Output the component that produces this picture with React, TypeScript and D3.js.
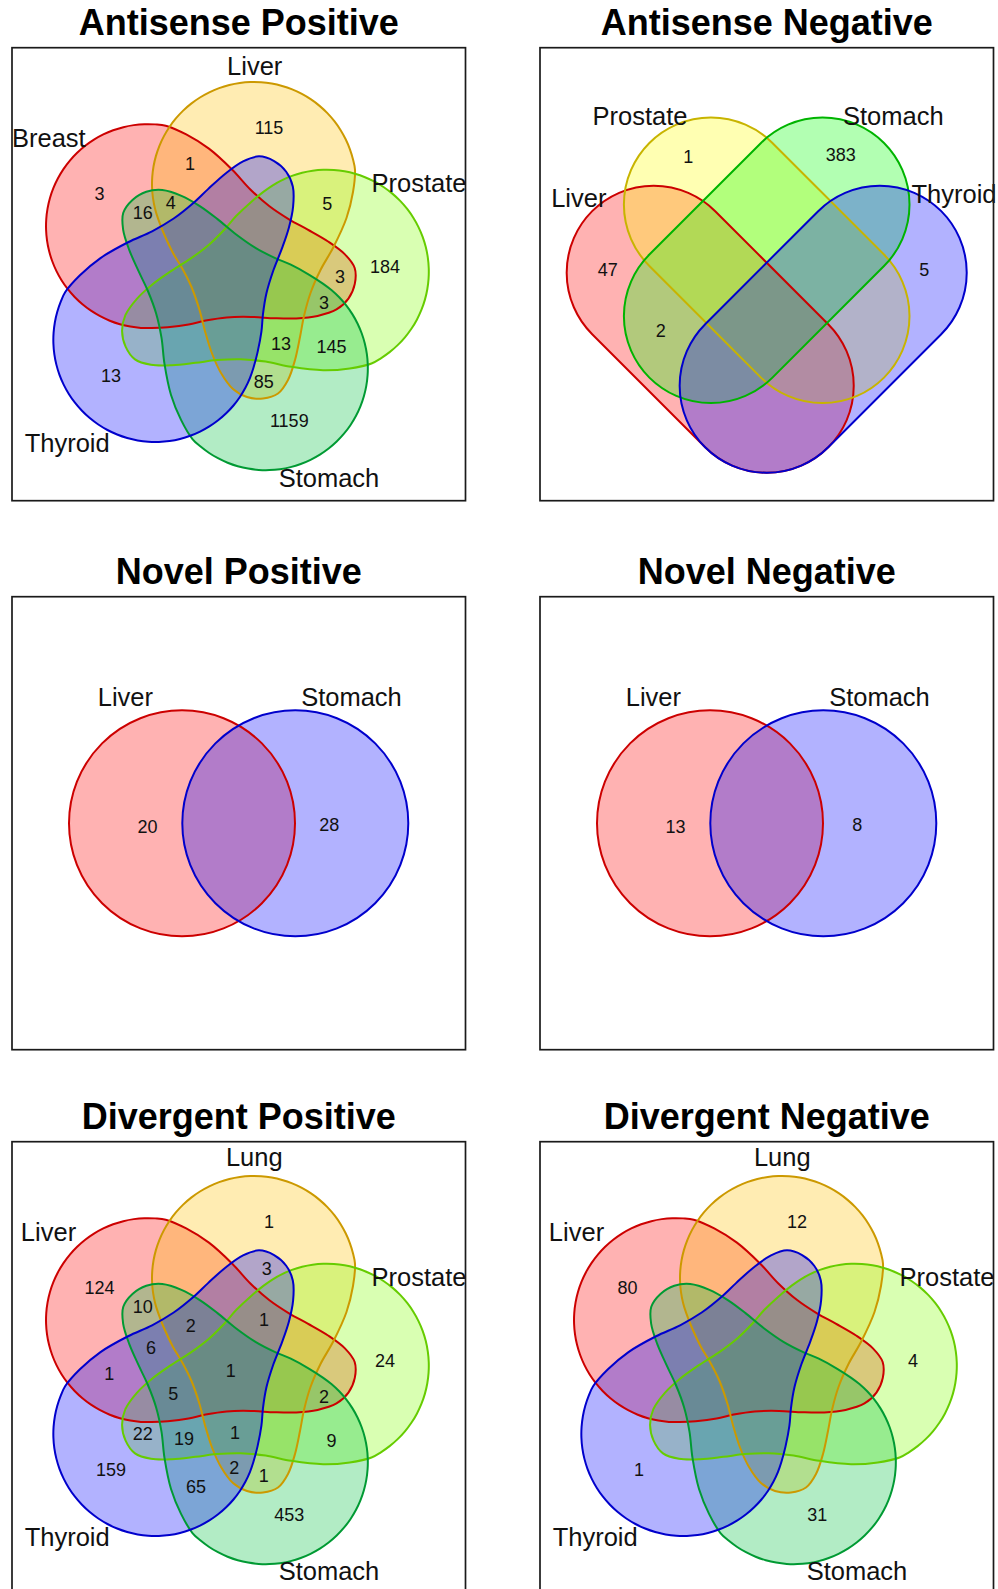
import React from "react";
import * as d3 from "d3";

// ---------- data ----------
const apTitle = "Antisense Positive";
const apSets = ["Breast", "Liver", "Prostate", "Stomach", "Thyroid"];
const apRegions = ["10000", "01000", "00100", "00010", "00001", "11000", "10010", "11010", "01100", "10100", "10110", "01110", "00110", "01010"];
const apCounts = [3, 115, 184, 1159, 13, 1, 16, 4, 5, 3, 3, 13, 145, 85];

const anTitle = "Antisense Negative";
const anSets = ["Liver", "Prostate", "Stomach", "Thyroid"];
const anRegions = ["1000", "0100", "0010", "0001", "1010"];
const anCounts = [47, 1, 383, 5, 2];

const npTitle = "Novel Positive";
const npSets = ["Liver", "Stomach"];
const npRegions = ["10", "01"];
const npCounts = [20, 28];

const nnTitle = "Novel Negative";
const nnSets = ["Liver", "Stomach"];
const nnRegions = ["10", "01"];
const nnCounts = [13, 8];

const dpTitle = "Divergent Positive";
const dpSets = ["Liver", "Lung", "Prostate", "Stomach", "Thyroid"];
const dpRegions = ["10000", "01000", "00100", "00010", "00001", "01001", "10010", "11011", "11101", "10011", "10001", "11111", "10111", "10110", "00101", "00111", "01111", "00110", "01011", "01010", "00011"];
const dpCounts = [124, 1, 24, 453, 159, 3, 10, 2, 1, 6, 1, 1, 5, 2, 22, 19, 1, 9, 2, 1, 65];

const dnTitle = "Divergent Negative";
const dnSets = ["Liver", "Lung", "Prostate", "Stomach", "Thyroid"];
const dnRegions = ["10000", "01000", "00100", "00010", "00001"];
const dnCounts = [80, 12, 4, 31, 1];

// ---------- layout ----------
const W = 998, H = 1589;
const BOX_W = 453.5, BOX_H = 453;
const COL_X = [12, 540];
const ROW_Y = [47.7, 596.7, 1141.7];
const FONT = "'Liberation Sans', Arial, Helvetica, sans-serif";
const ALPHA = 0.3;

// petal of the 5-set diagram (top set), relative to the star centre:
// a round lobe plus a tail that bends through the middle
const LOBE_C: [number, number] = [24, -94];
const LOBE_R = 102;
const tail: [number, number][] = [
  [-66, -44], [-57, -25], [-48, -10], [-38.5, 9], [-30.5, 32], [-24.5, 55], [-18, 75.5],
  [-9, 95], [3, 111], [17, 119], [33, 120.5], [48, 115.5], [58, 102], [65, 82], [70, 59],
  [74, 38], [80.5, 15], [90.5, -8], [103.5, -31], [116.5, -60], [123, -86],
];
const petal: [number, number][] = (() => {
  const pts: [number, number][] = [];
  for (let a = -8; a >= -200; a -= 6) {
    const t = (a * Math.PI) / 180;
    pts.push([LOBE_C[0] + LOBE_R * Math.cos(t), LOBE_C[1] + LOBE_R * Math.sin(t)]);
  }
  return pts.concat(tail);
})();

const fiveFill = ["#FF0000", "#FFBF00", "#80FF00", "#00C040", "#0000FF"];
const fiveStroke = ["#CC0000", "#CC9900", "#66CC00", "#009A33", "#0000CC"];
const fiveSpots: Record<string, [number, number]> = {
  "10000": [-130.5, -84.5], "01000": [39, -150.3], "00100": [155, -11.3], "00010": [59.3, 142.5],
  "00001": [-119, 98], "11000": [-40, -114.7], "10010": [-87.3, -65.5], "11010": [-59.3, -75.7],
  "01100": [97.3, -74], "10100": [110, -1.3], "10110": [94, 24.7], "01110": [51, 65.3],
  "00110": [101.5, 68.5], "01010": [33.7, 103.8], "01001": [36.7, -103.7], "11011": [-39.3, -46.3],
  "11101": [34, -52], "10011": [-79, -24.3], "10001": [-120.7, 2], "11111": [0.7, -1.3],
  "10111": [-56.7, 21.3], "00101": [-87.3, 62], "00111": [-46, 66.3], "01111": [5, 60.3],
  "01011": [4.3, 95.7], "00011": [-34, 114.7],
};
const fiveLabelsA: [number, number][] = [[36.8, 99.6], [242.7, 27.3], [407, 144.6], [317, 439.6], [55.2, 404.6]];
const fiveLabelsB: [number, number][] = [[36.5, 99], [242.3, 24.3], [407, 144], [317, 438.3], [55.2, 404]];

const fourFill = ["#FF0000", "#FFFF00", "#00FF00", "#0000FF"];
const fourStroke = ["#CC0000", "#C8B400", "#00B400", "#0000CC"];
const fourCaps: [number, number, number, number][] = [
  [113.7, 225, 226.7, 338],
  [170.9, 156.8, 282.5, 268.4],
  [282.5, 156.8, 170.9, 268.4],
  [339.7, 225, 226.7, 338],
];
const fourR = 87;
const fourSpots: Record<string, [number, number]> = {
  "1000": [67.7, 221.6], "0100": [148.3, 109], "0010": [300.7, 107.3], "0001": [384.3, 221.6], "1010": [120.7, 283.3],
};
const fourLabels: [number, number][] = [[38.8, 159], [100, 77.3], [353.3, 77.3], [414, 155.3]];

const twoFill = ["#FF0000", "#0000FF"];
const twoStroke = ["#CC0000", "#0000CC"];
const twoCircles: [number, number][] = [[170, 226.6], [283.3, 226.6]];
const twoR = 113;
const twoSpots: Record<string, [number, number]> = { "10": [135.5, 230], "01": [317.2, 228.3] };
const twoLabels: [number, number][] = [[113.4, 109], [339.5, 109]];

const rot = (p: [number, number], deg: number): [number, number] => {
  const a = (deg * Math.PI) / 180;
  return [p[0] * Math.cos(a) - p[1] * Math.sin(a), p[0] * Math.sin(a) + p[1] * Math.cos(a)];
};

function stadium(x1: number, y1: number, x2: number, y2: number, r: number) {
  const dx = x2 - x1, dy = y2 - y1;
  const len = Math.hypot(dx, dy);
  const nx = -dy / len, ny = dx / len;
  const a = Math.atan2(ny, nx);
  const p = d3.path();
  p.moveTo(x1 + nx * r, y1 + ny * r);
  p.lineTo(x2 + nx * r, y2 + ny * r);
  p.arc(x2, y2, r, a, a - Math.PI, true);
  p.lineTo(x1 - nx * r, y1 - ny * r);
  p.arc(x1, y1, r, a + Math.PI, a, true);
  p.closePath();
  return p.toString();
}

function Panel({ col, row, title, children }: any) {
  const x0 = COL_X[col], y0 = ROW_Y[row];
  return (
    <g>
      <text x={x0 + BOX_W / 2} y={y0 - 12.5} textAnchor="middle" fontFamily={FONT}
        fontWeight="bold" fontSize={36} fill="#000">{title}</text>
      <g transform={`translate(${x0},${y0})`}>{children}</g>
      <rect x={x0} y={y0} width={BOX_W} height={BOX_H} fill="none" stroke="#1a1a1a" strokeWidth={1.7} />
    </g>
  );
}

function SetLabels({ sets, pos }: { sets: string[]; pos: [number, number][] }) {
  return (
    <g>
      {sets.map((s, i) => (
        <text key={s + i} x={pos[i][0]} y={pos[i][1]} textAnchor="middle" fontFamily={FONT}
          fontSize={25.5} fill="#111">{s}</text>
      ))}
    </g>
  );
}

function Counts({ regions, counts, spots, dx = 0, dy = 0 }: any) {
  return (
    <g>
      {regions.map((r: string, i: number) => (
        <text key={r} x={dx + spots[r][0]} y={dy + spots[r][1]} dy="0.36em" textAnchor="middle"
          fontFamily={FONT} fontSize={18} fill="#111">{counts[i]}</text>
      ))}
    </g>
  );
}

function FiveVenn({ sets, regions, counts, labels }: any) {
  const cx = 218, cy = 230.3;
  const line = d3.line().curve(d3.curveCatmullRomClosed.alpha(0.5));
  const paths = sets.map((_: string, i: number) =>
    line(petal.map((p) => {
      const q = rot(p, (i - 1) * 72);
      return [cx + q[0], cy + q[1]] as [number, number];
    })) as string
  );
  return (
    <g>
      {paths.map((d: string, i: number) => (
        <path key={"f" + i} d={d} fill={fiveFill[i]} fillOpacity={ALPHA} stroke="none" />
      ))}
      {paths.map((d: string, i: number) => (
        <path key={"s" + i} d={d} fill="none" stroke={fiveStroke[i]} strokeWidth={2} />
      ))}
      <Counts regions={regions} counts={counts} spots={fiveSpots} dx={cx} dy={cy} />
      <SetLabels sets={sets} pos={labels} />
    </g>
  );
}

function FourVenn({ sets, regions, counts }: any) {
  const paths = fourCaps.map((c) => stadium(c[0], c[1], c[2], c[3], fourR));
  return (
    <g>
      {paths.map((d, i) => (
        <path key={"f" + i} d={d} fill={fourFill[i]} fillOpacity={ALPHA} stroke="none" />
      ))}
      {paths.map((d, i) => (
        <path key={"s" + i} d={d} fill="none" stroke={fourStroke[i]} strokeWidth={2} />
      ))}
      <Counts regions={regions} counts={counts} spots={fourSpots} />
      <SetLabels sets={sets} pos={fourLabels} />
    </g>
  );
}

function TwoVenn({ sets, regions, counts }: any) {
  return (
    <g>
      {twoCircles.map((c, i) => (
        <circle key={"f" + i} cx={c[0]} cy={c[1]} r={twoR} fill={twoFill[i]} fillOpacity={ALPHA} />
      ))}
      {twoCircles.map((c, i) => (
        <circle key={"s" + i} cx={c[0]} cy={c[1]} r={twoR} fill="none" stroke={twoStroke[i]} strokeWidth={2} />
      ))}
      <Counts regions={regions} counts={counts} spots={twoSpots} />
      <SetLabels sets={sets} pos={twoLabels} />
    </g>
  );
}

export default function App() {
  return (
    <svg width={W} height={H} viewBox={`0 0 ${W} ${H}`}
      style={{ position: "absolute", left: 0, top: 0, background: "#fff" }}>
      <rect width={W} height={H} fill="#fff" />
      <Panel col={0} row={0} title={apTitle}>
        <FiveVenn sets={apSets} regions={apRegions} counts={apCounts} labels={fiveLabelsA} />
      </Panel>
      <Panel col={1} row={0} title={anTitle}>
        <FourVenn sets={anSets} regions={anRegions} counts={anCounts} />
      </Panel>
      <Panel col={0} row={1} title={npTitle}>
        <TwoVenn sets={npSets} regions={npRegions} counts={npCounts} />
      </Panel>
      <Panel col={1} row={1} title={nnTitle}>
        <TwoVenn sets={nnSets} regions={nnRegions} counts={nnCounts} />
      </Panel>
      <Panel col={0} row={2} title={dpTitle}>
        <FiveVenn sets={dpSets} regions={dpRegions} counts={dpCounts} labels={fiveLabelsB} />
      </Panel>
      <Panel col={1} row={2} title={dnTitle}>
        <FiveVenn sets={dnSets} regions={dnRegions} counts={dnCounts} labels={fiveLabelsB} />
      </Panel>
    </svg>
  );
}
